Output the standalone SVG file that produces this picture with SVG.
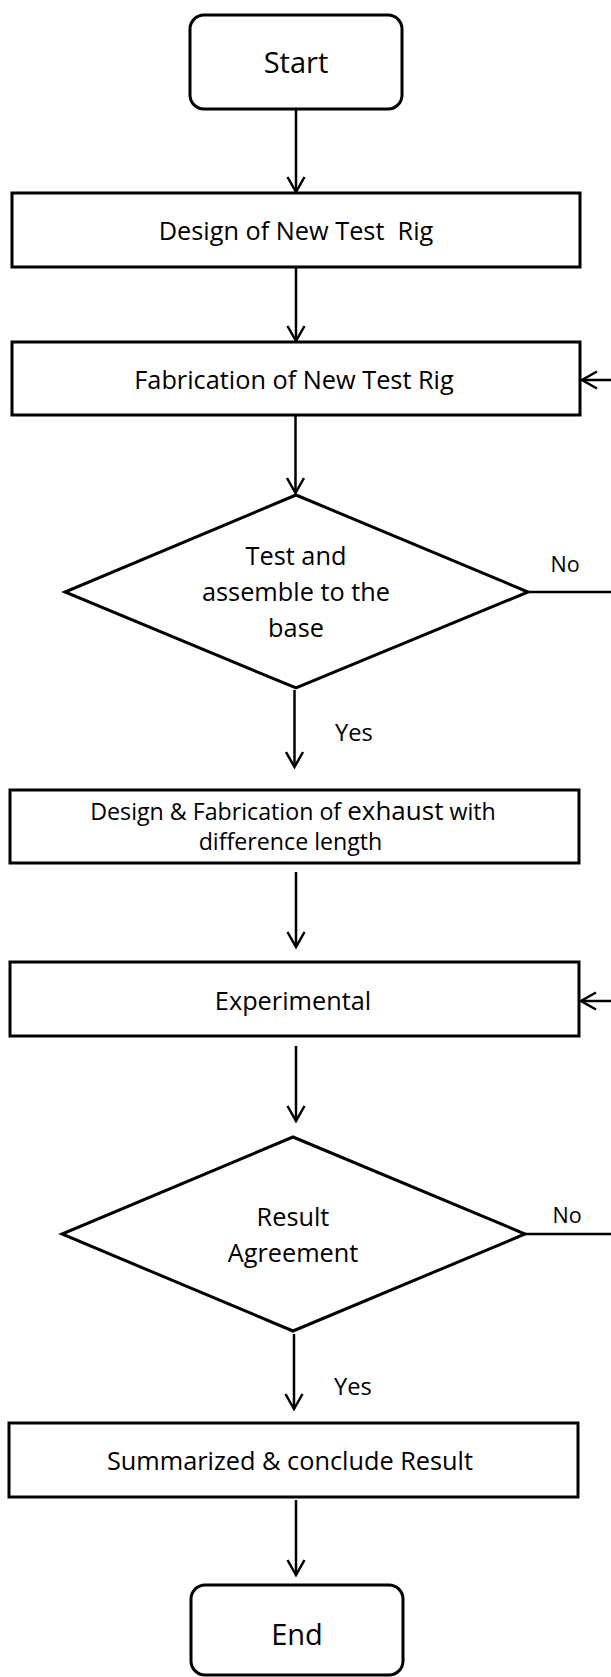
<svg xmlns="http://www.w3.org/2000/svg" width="611" height="1677" viewBox="0 0 611 1677">
<style>
.box{fill:#fff;stroke:#000;stroke-width:3}
.dia{fill:#fff;stroke:#000;stroke-width:3;stroke-linejoin:miter}
.con{fill:none;stroke:#000;stroke-width:2.5}
.t{font-family:"Open Sans","Liberation Sans",sans-serif;font-size:25.3px;fill:#000;text-anchor:middle}
.big{font-size:29px}
.lbl{font-size:21.5px}
</style>
<defs>
<marker id="ah" viewBox="0 0 20 20" refX="17" refY="10" markerWidth="20" markerHeight="20" markerUnits="userSpaceOnUse" orient="auto">
<path d="M2,1.5 L17,10 L2,18.5" fill="none" stroke="#000" stroke-width="2.5"/>
</marker>
</defs>
<rect width="611" height="1677" fill="#fff"/>
<g id="connectors">
<line class="con" x1="296" y1="109" x2="296" y2="192" marker-end="url(#ah)"/>
<line class="con" x1="296" y1="267" x2="296" y2="341" marker-end="url(#ah)"/>
<line class="con" x1="295.5" y1="415" x2="295.5" y2="493" marker-end="url(#ah)"/>
<line class="con" x1="294.5" y1="690" x2="294.5" y2="767" marker-end="url(#ah)"/>
<line class="con" x1="296" y1="872" x2="296" y2="947" marker-end="url(#ah)"/>
<line class="con" x1="296" y1="1046" x2="296" y2="1121" marker-end="url(#ah)"/>
<line class="con" x1="294" y1="1334" x2="294" y2="1409" marker-end="url(#ah)"/>
<line class="con" x1="296" y1="1500" x2="296" y2="1575" marker-end="url(#ah)"/>
<line class="con" x1="528" y1="592" x2="615" y2="592"/>
<line class="con" x1="615" y1="380" x2="582" y2="380" marker-end="url(#ah)"/>
<line class="con" x1="525" y1="1234" x2="615" y2="1234"/>
<line class="con" x1="615" y1="1001" x2="581" y2="1001" marker-end="url(#ah)"/>
<text class="t lbl" x="565" y="572">No</text>
<text class="t" x="354" y="741" style="font-size:23.7px">Yes</text>
<text class="t lbl" x="567" y="1223">No</text>
<text class="t" x="353" y="1395" style="font-size:23.7px">Yes</text>
</g>
<g id="start">
<rect class="box" x="190" y="15" width="212" height="94" rx="14"/>
<text class="t big" x="296" y="73">Start</text>
</g>
<g id="design">
<rect class="box" x="12" y="193" width="568" height="74"/>
<text class="t" x="296" y="240" xml:space="preserve">Design of New Test  Rig</text>
</g>
<g id="fabrication">
<rect class="box" x="12" y="342" width="568" height="73"/>
<text class="t" x="294" y="389">Fabrication of New Test Rig</text>
</g>
<g id="test">
<polygon class="dia" points="296,495 528,592 296,688 65,592"/>
<text class="t" x="296" y="565">Test and</text>
<text class="t" x="296" y="601">assemble to the</text>
<text class="t" x="296" y="637">base</text>
</g>
<g id="exhaust">
<rect class="box" x="10" y="790" width="569" height="73"/>
<text class="t" x="293" y="820" style="font-size:23.2px">Design &amp; Fabrication of <tspan style="font-size:26px">exhaust</tspan> with</text>
<text class="t" x="290.5" y="850" style="font-size:23.2px">difference length</text>
</g>
<g id="experimental">
<rect class="box" x="10" y="962" width="569" height="74"/>
<text class="t" x="293" y="1010">Experimental</text>
</g>
<g id="result">
<polygon class="dia" points="293,1137 525,1234 293,1331 62,1234"/>
<text class="t" x="293" y="1226">Result</text>
<text class="t" x="293" y="1262">Agreement</text>
</g>
<g id="summarized">
<rect class="box" x="9" y="1423" width="569" height="74"/>
<text class="t" x="290" y="1470">Summarized &amp; conclude Result</text>
</g>
<g id="end">
<rect class="box" x="191" y="1585" width="212" height="90" rx="14"/>
<text class="t big" x="297" y="1645">End</text>
</g>
</svg>
